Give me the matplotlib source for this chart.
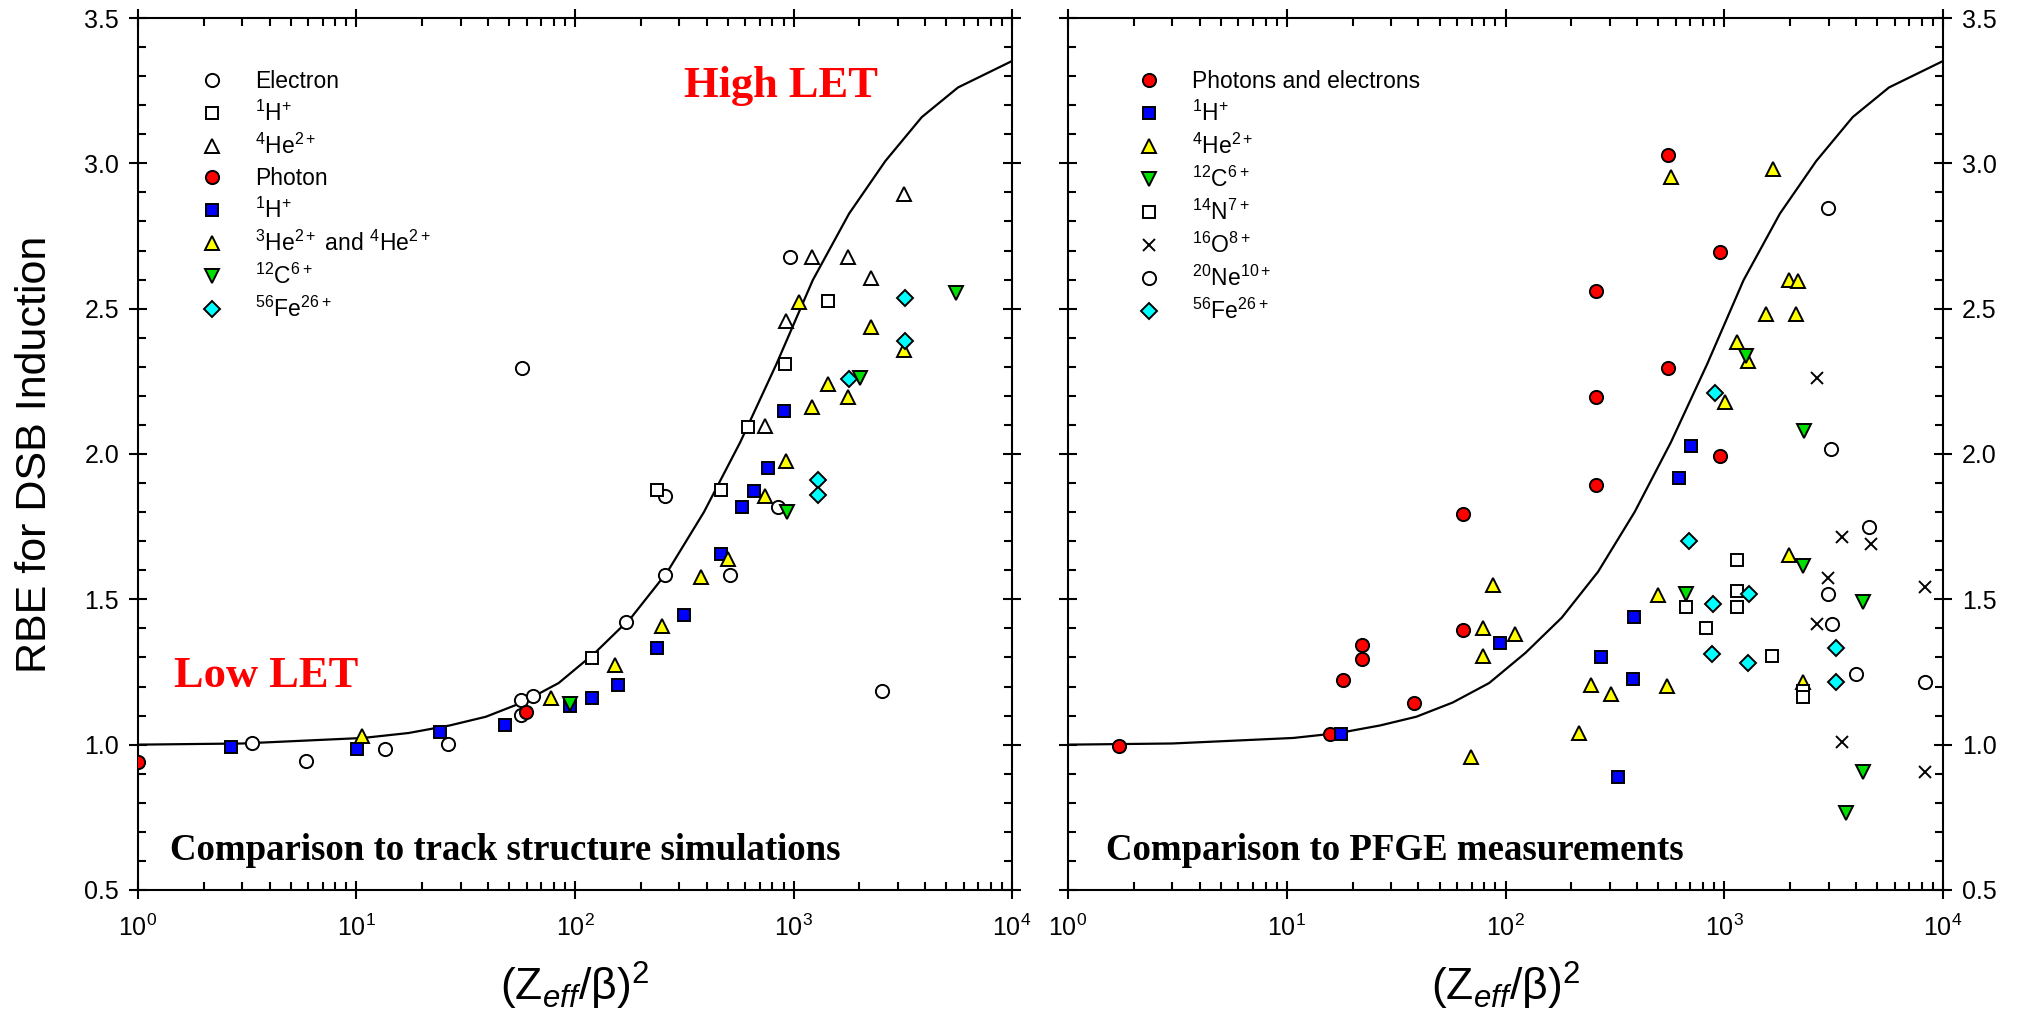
import matplotlib
matplotlib.use('Agg')
import matplotlib.pyplot as plt
from matplotlib.ticker import LogLocator, MultipleLocator, NullFormatter

plt.rcParams['font.family'] = ['Liberation Sans', 'DejaVu Sans']
plt.rcParams['mathtext.fontset'] = 'custom'
plt.rcParams['mathtext.rm'] = 'Liberation Sans'
plt.rcParams['mathtext.it'] = 'Liberation Sans:italic'
plt.rcParams['mathtext.bf'] = 'Liberation Sans:bold'

# fitted curve
curve_x = [1, 3, 10.7, 17.3, 26.7, 39.1, 57.4, 84.2, 123.5, 180.8, 265, 389, 570, 836,
           1225, 1796, 2633, 3864, 5660, 10000]
curve_y = [1.0, 1.004, 1.023, 1.040, 1.066, 1.096, 1.145, 1.212, 1.316, 1.437, 1.595, 1.80,
           2.04, 2.31, 2.598, 2.827, 3.008, 3.159, 3.261, 3.352]

# ---- left panel: track structure simulations ----
sim_e_x = [3.31, 5.85, 13.5, 26.3, 56.8, 56.8, 64.5, 171, 259, 257, 512, 851, 2547, 57.5, 966]
sim_e_y = [1.005, 0.945, 0.984, 1.002, 1.154, 1.102, 1.169, 1.423, 1.857, 1.582, 1.582, 1.817,
           1.186, 2.295, 2.679]
sim_p_x = [119, 236.6, 466, 619, 912, 1435]
sim_p_y = [1.297, 1.876, 1.876, 2.092, 2.310, 2.527]
sim_he_x = [743, 922, 1219, 1773, 2268, 3200]
sim_he_y = [2.096, 2.459, 2.679, 2.679, 2.605, 2.895]
photon_x = [1, 59.6]
photon_y = [0.94, 1.114]
exp_p_x = [2.66, 10.1, 24.1, 47.8, 94.8, 119, 157.5, 236.6, 314, 468, 582, 661, 763, 908]
exp_p_y = [0.991, 0.985, 1.043, 1.066, 1.133, 1.160, 1.206, 1.332, 1.446, 1.656, 1.816, 1.874,
           1.953, 2.149]
exp_he_x = [10.6, 77.7, 152, 251, 377, 501, 743, 922, 1055, 1219, 1442, 1773, 2268, 3200]
exp_he_y = [1.030, 1.162, 1.274, 1.408, 1.578, 1.638, 1.857, 1.976, 2.522, 2.161, 2.241, 2.197,
            2.436, 2.358]
exp_c_x = [94.8, 938, 2013, 5560]
exp_c_y = [1.14, 1.802, 2.261, 2.555]
exp_fe_x = [1301, 1301, 1786, 3250, 3250]
exp_fe_y = [1.911, 1.859, 2.258, 2.538, 2.389]

# ---- right panel: PFGE measurements ----
pf_ph_x = [1.71, 15.8, 18.0, 22.0, 22.0, 38.2, 64.2, 64.2, 258, 258, 258, 551, 551, 957, 957]
pf_ph_y = [0.997, 1.036, 1.223, 1.294, 1.343, 1.145, 1.794, 1.395, 2.562, 2.195, 1.894, 3.029,
           2.295, 2.694, 1.993]
pf_p_x = [17.7, 94.4, 273, 328, 381, 388, 621, 705]
pf_p_y = [1.036, 1.351, 1.301, 0.888, 1.226, 1.438, 1.919, 2.028]
pf_he_x = [69.5, 78.7, 78.7, 88, 110, 217, 246, 304, 497, 549, 569, 1008, 1140, 1289, 1546,
           1675, 1983, 2167, 2120, 1983, 2280]
pf_he_y = [0.959, 1.400, 1.305, 1.550, 1.380, 1.039, 1.206, 1.174, 1.515, 1.203, 2.954, 2.180,
           2.387, 2.321, 2.482, 2.980, 2.599, 2.595, 2.482, 1.653, 1.217]
pf_c_x = [668, 1257, 2315, 2298, 4320, 4320, 3603]
pf_c_y = [1.519, 2.337, 2.080, 1.613, 1.492, 0.905, 0.764]
pf_n_x = [1140, 1140, 1140, 668, 822, 1648, 2280, 2280]
pf_n_y = [1.636, 1.527, 1.475, 1.475, 1.400, 1.305, 1.183, 1.165]
pf_o_x = [2643, 3443, 4690, 2970, 8270, 2644, 3443, 8270]
pf_o_y = [2.261, 1.716, 1.690, 1.575, 1.544, 1.415, 1.008, 0.907]
pf_ne_x = [2990, 3077, 4590, 2970, 3110, 4000, 8270]
pf_ne_y = [2.845, 2.016, 1.750, 1.519, 1.415, 1.243, 1.217]
pf_fe_x = [907, 690, 885, 1298, 877, 1289, 3231, 3231]
pf_fe_y = [2.211, 1.701, 1.483, 1.519, 1.311, 1.280, 1.332, 1.217]

RED, BLUE, YEL, GRN, CYN = '#ff0000', '#0000ff', '#ffff00', '#00e000', '#00ffff'
MS = {'o': 9.5, 's': 9, '^': 10, 'v': 10, 'D': 8, 'x': 9}

fig = plt.figure(figsize=(20.2, 10.17), dpi=100)
ax1 = fig.add_axes([0.0683, 0.1249, 0.4327, 0.8574])
ax2 = fig.add_axes([0.5287, 0.1249, 0.4332, 0.8574])


def pts(ax, x, y, m, fc, label):
    ax.plot(x, y, ls='none', marker=m, ms=MS[m], mfc=fc, mec='black', mew=1.4,
            label=label, zorder=3)


for ax in (ax1, ax2):
    ax.plot(curve_x, curve_y, color='black', lw=1.6, zorder=2,
            solid_joinstyle='round')

pts(ax1, sim_e_x, sim_e_y, 'o', 'white', 'Electron')
pts(ax1, sim_p_x, sim_p_y, 's', 'white', r'$^{1}$H$^{+}$')
pts(ax1, sim_he_x, sim_he_y, '^', 'white', r'$^{4}$He$^{2+}$')
pts(ax1, photon_x, photon_y, 'o', RED, 'Photon')
pts(ax1, exp_p_x, exp_p_y, 's', BLUE, r'$^{1}$H$^{+}$')
pts(ax1, exp_he_x, exp_he_y, '^', YEL, r'$^{3}$He$^{2+}$ and $^{4}$He$^{2+}$')
pts(ax1, exp_c_x, exp_c_y, 'v', GRN, r'$^{12}$C$^{6+}$')
pts(ax1, exp_fe_x, exp_fe_y, 'D', CYN, r'$^{56}$Fe$^{26+}$')

pts(ax2, pf_ph_x, pf_ph_y, 'o', RED, 'Photons and electrons')
pts(ax2, pf_p_x, pf_p_y, 's', BLUE, r'$^{1}$H$^{+}$')
pts(ax2, pf_he_x, pf_he_y, '^', YEL, r'$^{4}$He$^{2+}$')
pts(ax2, pf_c_x, pf_c_y, 'v', GRN, r'$^{12}$C$^{6+}$')
pts(ax2, pf_n_x, pf_n_y, 's', 'white', r'$^{14}$N$^{7+}$')
pts(ax2, pf_o_x, pf_o_y, 'x', 'white', r'$^{16}$O$^{8+}$')
pts(ax2, pf_ne_x, pf_ne_y, 'o', 'white', r'$^{20}$Ne$^{10+}$')
pts(ax2, pf_fe_x, pf_fe_y, 'D', CYN, r'$^{56}$Fe$^{26+}$')

for ax, lx in ((ax1, 0.0715), (ax2, 0.0794)):
    ax.set_xscale('log')
    ax.set_xlim(1, 1e4)
    ax.set_ylim(0.5, 3.5)
    ax.xaxis.set_major_locator(LogLocator(base=10, numticks=10))
    ax.xaxis.set_minor_locator(LogLocator(base=10, subs=range(2, 10), numticks=50))
    ax.xaxis.set_minor_formatter(NullFormatter())
    ax.yaxis.set_major_locator(MultipleLocator(0.5))
    ax.yaxis.set_minor_locator(MultipleLocator(0.1))
    for sp in ax.spines.values():
        sp.set_linewidth(1.5)
    ax.tick_params(which='major', direction='inout', length=13, width=1.5,
                   top=True, right=True, labelsize=18, pad=7)
    ax.tick_params(which='minor', direction='in', length=5.5, width=1.5,
                   top=True, right=True)
    ax.tick_params(axis='x', which='major', pad=11)
    ax.set_xlabel(r'(Z$_{\mathit{eff}}$/β)$^{2}$', fontsize=32, labelpad=14)
    ax.legend(loc='upper left', bbox_to_anchor=(lx, 0.94), frameon=False,
              fontsize=16.5, numpoints=1, handlelength=1.0, handletextpad=1.4,
              labelspacing=0.34, borderpad=0, borderaxespad=0)

ax1.tick_params(axis='y', labelleft=True, labelright=False)
ax2.tick_params(axis='y', labelleft=False, labelright=True)
ax1.set_ylabel('RBE for DSB Induction', fontsize=31, labelpad=21)

serif = dict(family=['Liberation Serif', 'DejaVu Serif'], fontweight='bold')
ax1.text(0.625, 0.909, 'High LET', transform=ax1.transAxes, color='red', fontsize=32,
         va='baseline', **serif)
ax1.text(0.041, 0.233, 'Low LET', transform=ax1.transAxes, color='red', fontsize=32,
         va='baseline', **serif)
ax1.text(0.0366, 0.0344, 'Comparison to track structure simulations', transform=ax1.transAxes,
         fontsize=26.6, va='baseline', **serif)
ax2.text(0.043, 0.0344, 'Comparison to PFGE measurements', transform=ax2.transAxes,
         fontsize=26.6, va='baseline', **serif)

fig.savefig('out.png', dpi=100)
